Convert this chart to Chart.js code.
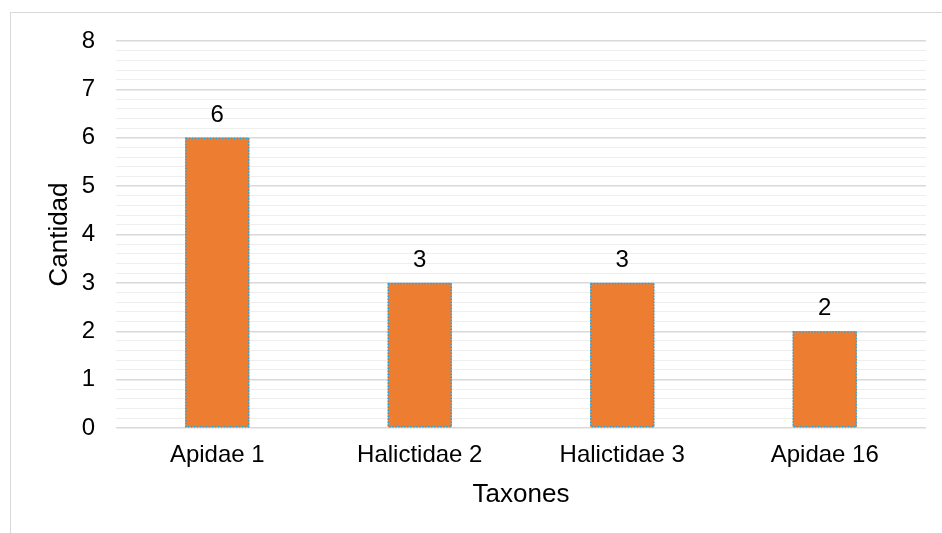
<!DOCTYPE html>
<html>
<head>
<meta charset="utf-8">
<script src="https://cdn.jsdelivr.net/npm/chart.js@4/dist/chart.umd.min.js"></script>
<style>
  html, body { margin: 0; padding: 0; background: #fff; overflow: hidden; }
  #wrap { position: relative; width: 942px; height: 533px; }
  #frame { position: absolute; left: 10px; top: 12px; width: 1000px; height: 600px; border: 1px solid #d9d9d9; }
  canvas { position: absolute; left: 0; top: 0; }
</style>
</head>
<body>
<div id="wrap">
  <div id="frame"></div>
  <canvas id="c" width="942" height="533"></canvas>
</div>
<script>
const categories = ['Apidae 1', 'Halictidae 2', 'Halictidae 3', 'Apidae 16'];
const values = [6, 3, 3, 2];
const yMin = 0;
const yMax = 8;
const xTitle = 'Taxones';
const yTitle = 'Cantidad';

const FONT = "'Liberation Sans', Arial, sans-serif";
const isInt = v => Math.abs(v - Math.round(v)) < 1e-6;

const barExtras = {
  id: 'barExtras',
  afterDatasetsDraw(chart) {
    const ctx = chart.ctx;
    const meta = chart.getDatasetMeta(0);
    ctx.save();
    meta.data.forEach((bar, i) => {
      const p = bar.getProps(['x', 'y', 'base', 'width'], true);
      const left = p.x - p.width / 2;
      ctx.strokeStyle = '#1fa8e6';
      ctx.lineWidth = 1.5;
      ctx.setLineDash([1.5, 1.5]);
      ctx.strokeRect(left + 0.5, p.y + 0.5, p.width - 1, p.base - p.y - 1);
      ctx.setLineDash([]);
      ctx.fillStyle = '#000';
      ctx.font = '24px ' + FONT;
      ctx.textAlign = 'center';
      ctx.textBaseline = 'alphabetic';
      ctx.fillText(String(values[i]), p.x, p.y - 16);
    });
    ctx.restore();
  }
};

new Chart(document.getElementById('c'), {
  type: 'bar',
  data: {
    labels: categories,
    datasets: [{
      data: values,
      backgroundColor: '#ed7d31',
      borderWidth: 0,
      barPercentage: 0.316,
      categoryPercentage: 1
    }]
  },
  options: {
    responsive: false,
    animation: false,
    events: [],
    layout: { padding: { left: 0, right: 16, top: 41, bottom: 0 } },
    plugins: { legend: { display: false }, tooltip: { enabled: false } },
    scales: {
      x: {
        grid: { display: false, drawTicks: false },
        border: { display: false },
        ticks: { color: '#000', font: { family: FONT, size: 24 }, padding: 13, maxRotation: 0 },
        title: { display: true, text: xTitle, color: '#000', font: { family: FONT, size: 26 }, padding: { top: 0, bottom: 23 } },
        afterFit(s) { s.height = 105; }
      },
      y: {
        min: yMin,
        max: yMax,
        grid: {
          drawTicks: false,
          color: c => isInt(c.tick.value) ? '#d9d9d9' : '#eeeeee',
          lineWidth: c => isInt(c.tick.value) ? 1.5 : 1
        },
        border: { display: false },
        ticks: {
          stepSize: 0.2,
          autoSkip: false,
          color: '#000',
          font: { family: FONT, size: 24 },
          padding: 21,
          callback: v => isInt(v) ? String(Math.round(v)) : ''
        },
        title: { display: true, text: yTitle, color: '#000', font: { family: FONT, size: 26 }, padding: { top: 44, bottom: 0 } },
        afterFit(s) { s.width = 116; }
      }
    }
  },
  plugins: [barExtras]
});
</script>
</body>
</html>
